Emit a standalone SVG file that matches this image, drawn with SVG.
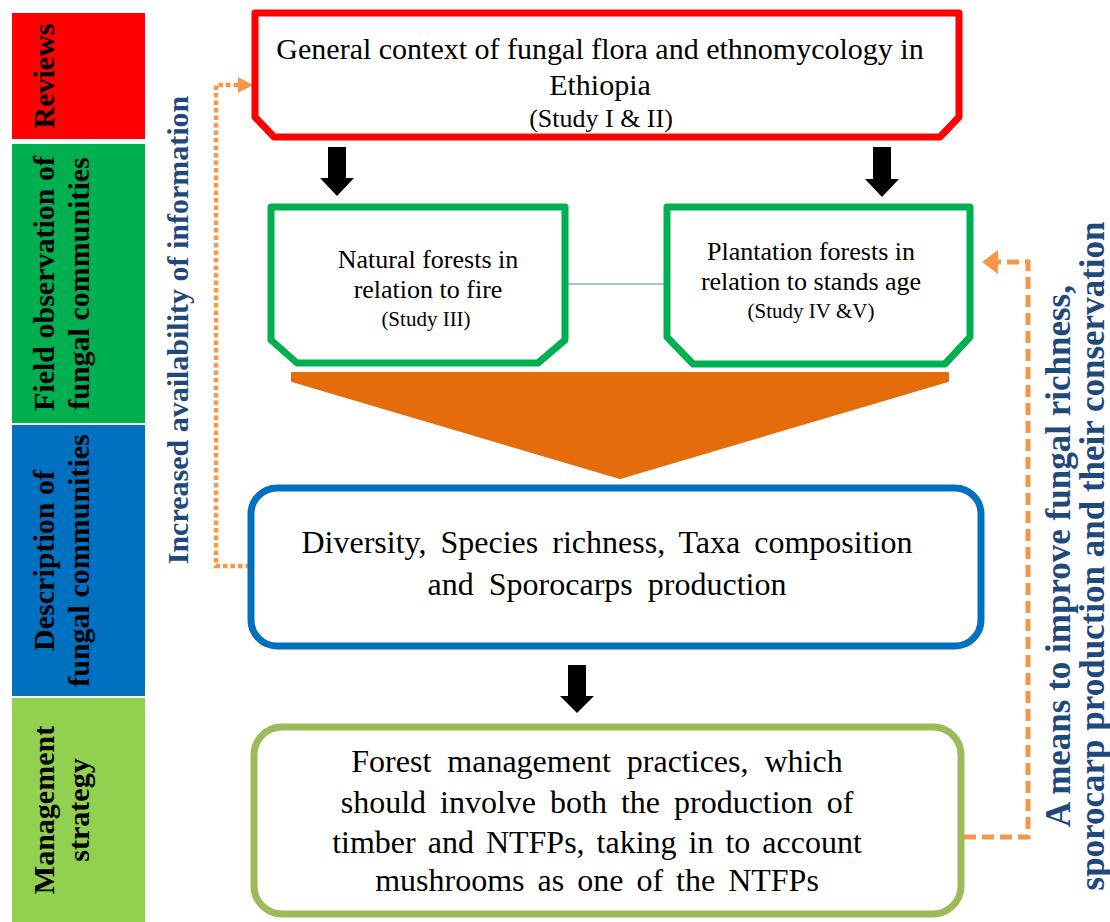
<svg xmlns="http://www.w3.org/2000/svg" width="1110" height="922" viewBox="0 0 1110 922">
<style>
.bar{font-family:"Liberation Serif","Times New Roman",serif;font-weight:bold;font-size:30px;fill:#000;text-anchor:middle}
.side{font-family:"Liberation Serif","Times New Roman",serif;font-weight:bold;fill:#1F497D;text-anchor:middle}
.t{font-family:"Liberation Serif","Times New Roman",serif;fill:#000;text-anchor:middle}
.box{fill:#fff;stroke-width:7;stroke-linejoin:round}
.blk{fill:#000}
</style>
<rect width="1110" height="922" fill="#fff"/>
<g id="bars">
<rect x="12" y="13" width="133" height="126" fill="#FF0000"/>
<rect x="12" y="144" width="133" height="279" fill="#00B050"/>
<rect x="12" y="425" width="133" height="271" fill="#0070C0"/>
<rect x="12" y="698" width="133" height="224" fill="#92D050"/>
<text class="bar" transform="translate(54,76) rotate(-90)">Reviews</text>
<text class="bar" transform="translate(54,283.5) rotate(-90)">Field observation of</text>
<text class="bar" transform="translate(89,283.5) rotate(-90)">fungal communities</text>
<text class="bar" transform="translate(54,560.5) rotate(-90)">Description of</text>
<text class="bar" transform="translate(89,560.5) rotate(-90)">fungal communities</text>
<text class="bar" transform="translate(54,810) rotate(-90)">Management</text>
<text class="bar" transform="translate(89,810) rotate(-90)">strategy</text>
</g>
<g id="connectors">
<polyline points="250,566 216,566 216,85 240,85" fill="none" stroke="#F79646" stroke-width="4.5" stroke-dasharray="4.5 3"/>
<polygon points="238,77 253,85 238,93" fill="#F79646"/>
<polyline points="964,837 1028,837 1028,262 998,262" fill="none" stroke="#F79646" stroke-width="5" stroke-dasharray="12 6"/>
<polygon points="998,250 982,262 998,274" fill="#F79646"/>
<line x1="565" y1="284" x2="667" y2="284" stroke="#4F81BD" stroke-width="1.2"/>
<polygon class="blk" points="328,147 346,147 346,178 354,178 337,196 320,178 328,178"/>
<polygon class="blk" points="873,147 891,147 891,179 899,179 882,197 865,179 873,179"/>
<polygon class="blk" points="568,665 586,665 586,696 594,696 577,713 560,696 568,696"/>
<polygon points="292,373 948,373 948,381 620,478 292,381" fill="#E46C0A" stroke="#E46C0A" stroke-width="2" stroke-linejoin="round"/>
</g>
<text class="side" style="font-size:30px" transform="translate(188,330) rotate(-90)">Increased availability of information</text>
<text class="side" style="font-size:35px" transform="translate(1070,556) rotate(-90)">A means to improve fungal richness,</text>
<text class="side" style="font-size:35px" transform="translate(1104,556) rotate(-90)">sporocarp production and their conservation</text>
<g id="reviews">
<path class="box" stroke="#FF0000" d="M255,13 L959,13 L959,117 L940,137 L274,137 L255,117 Z"/>
<text class="t" x="600" y="59" font-size="30">General context of fungal flora and ethnomycology in</text>
<text class="t" x="600" y="95" font-size="30">Ethiopia</text>
<text class="t" x="601" y="127" font-size="26">(Study  I &amp; II)</text>
</g>
<g id="natural">
<path class="box" stroke="#00B050" d="M271,207 L565,207 L565,340 L538,363 L297,363 L271,340 Z"/>
<text class="t" x="428" y="268" font-size="26">Natural forests in</text>
<text class="t" x="428" y="298" font-size="26">relation to fire</text>
<text class="t" x="426" y="326" font-size="21">(Study  III)</text>
</g>
<g id="plantation">
<path class="box" stroke="#00B050" d="M667,207 L970,207 L970,337 L945,364 L693,364 L667,337 Z"/>
<text class="t" x="811" y="260" font-size="26">Plantation forests in</text>
<text class="t" x="811" y="290" font-size="26">relation to stands age</text>
<text class="t" x="811" y="318" font-size="21">(Study  IV  &amp;V)</text>
</g>
<g id="description">
<rect class="box" stroke="#0070C0" x="251" y="488" width="730" height="158" rx="26"/>
<text class="t" x="607" y="553" font-size="32" word-spacing="6">Diversity, Species richness, Taxa composition</text>
<text class="t" x="607" y="595" font-size="32" word-spacing="7">and Sporocarps production</text>
</g>
<g id="management">
<rect class="box" stroke="#9BBB59" x="254" y="727" width="707" height="187" rx="28"/>
<text class="t" x="597" y="772" font-size="32" word-spacing="8">Forest management practices, which</text>
<text class="t" x="597" y="813" font-size="32" word-spacing="6">should involve both the production of</text>
<text class="t" x="597" y="853" font-size="32" word-spacing="4">timber and NTFPs, taking in to account</text>
<text class="t" x="597" y="891" font-size="32" word-spacing="5">mushrooms as one of the NTFPs</text>
</g>
</svg>
